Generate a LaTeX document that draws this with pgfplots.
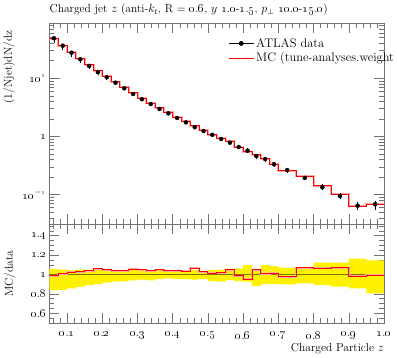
\documentclass[border=0pt]{standalone}
\usepackage{pgfplots}
\pgfplotsset{compat=1.18}
\usepackage{pgfplotstable}
\newcommand{\os}[1]{\oldstylenums{#1}}
\newcommand{\fs}{\fontsize{11.5}{13.8}\selectfont}
\newcommand{\fl}{\fontsize{12.4}{14.6}\selectfont}

\pgfplotstableread{
x y ep em
0.0625 48.7 2.63 8.04
0.0875 36.3 1.82 5.81
0.1125 27.5 1.24 3.93
0.1375 21.2 1.06 2.71
0.1625 16.3 0.82 1.79
0.1875 12.7 0.74 1.27
0.2125 10.4 0.54 0.88
0.2375 8.4 0.38 0.63
0.2625 6.73 0.30 0.47
0.2875 5.37 0.31 0.32
0.3125 4.36 0.22 0.23
0.3375 3.61 0.16 0.22
0.3625 2.97 0.15 0.14
0.3875 2.50 0.11 0.10
0.4125 2.08 0.094 0.10
0.4375 1.75 0.079 0.084
0.4625 1.44 0.065 0.075
0.4875 1.24 0.046 0.060
0.5125 1.07 0.047 0.073
0.5375 0.906 0.045 0.068
0.5625 0.782 0.047 0.045
0.5875 0.660 0.040 0.045
0.6125 0.570 0.054 0.043
0.6375 0.462 0.023 0.055
0.6625 0.410 0.039 0.041
0.6875 0.334 0.028 0.033
0.725 0.265 0.019 0.027
0.775 0.194 0.015 0.018
0.825 0.134 0.016 0.015
0.875 0.095 0.012 0.012
0.925 0.0648 0.0106 0.0093
0.975 0.0685 0.010 0.0133
}\datatab

\pgfplotstableread{
x mc
0.05 48.0
0.075 36.5
0.1 28.1
0.125 21.8
0.15 16.95
0.175 13.42
0.2 10.89
0.225 8.71
0.25 6.98
0.275 5.66
0.3 4.56
0.325 3.74
0.35 3.11
0.375 2.60
0.4 2.16
0.425 1.81
0.45 1.53
0.475 1.27
0.5 1.08
0.525 0.924
0.55 0.822
0.575 0.651
0.6 0.543
0.625 0.486
0.65 0.412
0.675 0.337
0.7 0.259
0.75 0.207
0.8 0.143
0.85 0.101
0.9 0.0635
0.95 0.068
1.0 0.068
}\mctab

\pgfplotstableread{
x r
0.05 0.986
0.075 1.006
0.1 1.023
0.125 1.03
0.15 1.04
0.175 1.057
0.2 1.047
0.225 1.037
0.25 1.037
0.275 1.054
0.3 1.047
0.325 1.037
0.35 1.047
0.375 1.04
0.4 1.04
0.425 1.033
0.45 1.064
0.475 1.027
0.5 1.01
0.525 1.02
0.55 1.051
0.575 0.986
0.6 0.952
0.625 1.051
0.65 1.006
0.675 1.01
0.7 0.976
0.75 1.068
0.8 1.064
0.85 1.068
0.9 0.98
0.95 0.993
1.0 0.993
}\rtab

\pgfplotsset{
  rivet/.style={
    scale only axis, width=334.5pt,
    xmin=0.05, xmax=1.0,
    tick align=inside,
    major tick length=10pt, minor tick length=5pt,
    every tick/.style={black!55, line width=0.5pt},
    axis line style={black!55, line width=0.5pt},
    xtick={0.1,0.2,0.3,0.4,0.5,0.6,0.7,0.8,0.9,1.0},
    minor xtick={0.06,0.08,0.12,0.14,0.16,0.18,0.22,0.24,0.26,0.28,0.32,0.34,0.36,0.38,0.42,0.44,0.46,0.48,0.52,0.54,0.56,0.58,0.62,0.64,0.66,0.68,0.72,0.74,0.76,0.78,0.82,0.84,0.86,0.88,0.92,0.94,0.96,0.98},
    tick label style={font=\fs},
    label style={font=\fs},
  }
}

\begin{document}
\begin{tikzpicture}
% ratio panel
\begin{axis}[rivet, at={(0pt,0pt)}, anchor=south west, height=99pt,
  ymin=0.5, ymax=1.52,
  ytick={0.6,0.8,1,1.2,1.4},
  yticklabels={\os{0}.\os{6},\os{0}.\os{8},\os{1},\os{1}.\os{2},\os{1}.\os{4}},
  minor ytick={0.55,0.65,0.7,0.75,0.85,0.9,0.95,1.05,1.1,1.15,1.25,1.3,1.35,1.45,1.5},
  xticklabels={\os{0}.\os{1},\os{0}.\os{2},\os{0}.\os{3},\os{0}.\os{4},\os{0}.\os{5},\os{0}.\os{6},\os{0}.\os{7},\os{0}.\os{8},\os{0}.\os{9},\os{1}.\os{0}},
  xticklabel style={yshift=-5pt},
  xlabel={Charged Particle $z$},
  xlabel style={at={(axis description cs:1,-0.29)}, anchor=base east, inner sep=0pt},
  ylabel={MC/data},
  ylabel style={at={(axis description cs:-0.118,0.5)}, anchor=center},
]
\addplot[const plot, fill=yellow, draw=none, forget plot] coordinates {
(0.05,1.054) (0.075,1.05) (0.1,1.045) (0.125,1.05) (0.15,1.05) (0.175,1.058) (0.2,1.052) (0.225,1.045) (0.25,1.045) (0.275,1.058) (0.3,1.05) (0.325,1.045) (0.35,1.05) (0.375,1.045) (0.4,1.045) (0.425,1.045) (0.45,1.045) (0.475,1.037) (0.5,1.044) (0.525,1.05) (0.55,1.06) (0.575,1.06) (0.6,1.095) (0.625,1.05) (0.65,1.095) (0.675,1.085) (0.7,1.071) (0.75,1.078) (0.8,1.122) (0.85,1.122) (0.9,1.163) (0.95,1.146) (1.0,1.146)
(1.0,0.806) (0.95,0.857) (0.9,0.874) (0.85,0.89) (0.8,0.908) (0.75,0.898) (0.7,0.90) (0.675,0.90) (0.65,0.88) (0.625,0.925) (0.6,0.932) (0.575,0.942) (0.55,0.925) (0.525,0.932) (0.5,0.952) (0.475,0.948) (0.45,0.952) (0.425,0.952) (0.4,0.96) (0.375,0.952) (0.35,0.94) (0.325,0.948) (0.3,0.94) (0.275,0.93) (0.25,0.925) (0.225,0.915) (0.2,0.90) (0.175,0.89) (0.15,0.872) (0.125,0.857) (0.1,0.84) (0.075,0.835) (0.05,0.835)
};
\addplot[black, opacity=0.5, line width=0.6pt, forget plot] coordinates {(0.05,1) (1.0,1)};
\addplot[red!35, line width=2pt, const plot, forget plot] table[x=x, y=r]{\rtab};
\addplot[red, line width=0.9pt, const plot, forget plot] table[x=x, y=r]{\rtab};
\end{axis}
% main panel
\begin{axis}[rivet, at={(0pt,99pt)}, anchor=south west, height=201pt,
  ymode=log, ymin=0.0314, ymax=89,
  ytick={0.1,1,10},
  yticklabels={\os{10}\textsuperscript{$-$\os{1}},\os{1},\os{10}\textsuperscript{\os{1}}},
  minor ytick={0.04,0.05,0.06,0.07,0.08,0.09,0.2,0.3,0.4,0.5,0.6,0.7,0.8,0.9,2,3,4,5,6,7,8,9,20,30,40,50,60,70,80},
  xticklabels={},
  ylabel={(1/Njet)dN/dz},
  ylabel style={at={(axis description cs:-0.121,0.98)}, anchor=east},
  title={Charged jet $z$ (anti-$k_t$, R = \os{0}.\os{6}, $y$ \os{1}.\os{0}-\os{1}.\os{5}, $p_\perp$ \os{10}.\os{0}-\os{15}.\os{0})},
  title style={at={(axis description cs:0,1)}, anchor=base west, yshift=4.3pt, inner sep=0pt, font=\fs},
  legend style={at={(axis description cs:0.534,0.935)}, anchor=north west, draw=none, fill=none, inner sep=0pt, row sep=0pt, font=\fl, cells={anchor=west}},
  legend image code/.code={\draw[mark repeat=2,mark phase=2,#1] plot coordinates {(0pt,0pt) (12.5pt,0pt) (25pt,0pt)};},
]
\addplot[red!35, line width=2pt, const plot, forget plot] table[x=x, y=mc]{\mctab};
\addplot[red, line width=0.9pt, const plot, forget plot] table[x=x, y=mc]{\mctab};
\addplot[black, only marks, mark=*, mark size=2pt, forget plot,
  error bars/.cd, y dir=both, y explicit, error mark=none,
  error bar style={black, line width=0.7pt}]
  table[x=x, y=y, y error plus=ep, y error minus=em]{\datatab};
\addlegendimage{black, line width=0.8pt, mark=*, mark size=2pt}
\addlegendentry{ATLAS data}
\addlegendimage{red, line width=0.9pt}
\addlegendentry{MC (tune-analyses.weight}
\end{axis}
\pgfresetboundingbox
\path[use as bounding box] (-49.5pt,-35pt) rectangle (347.5pt,323pt);
\end{tikzpicture}
\end{document}
